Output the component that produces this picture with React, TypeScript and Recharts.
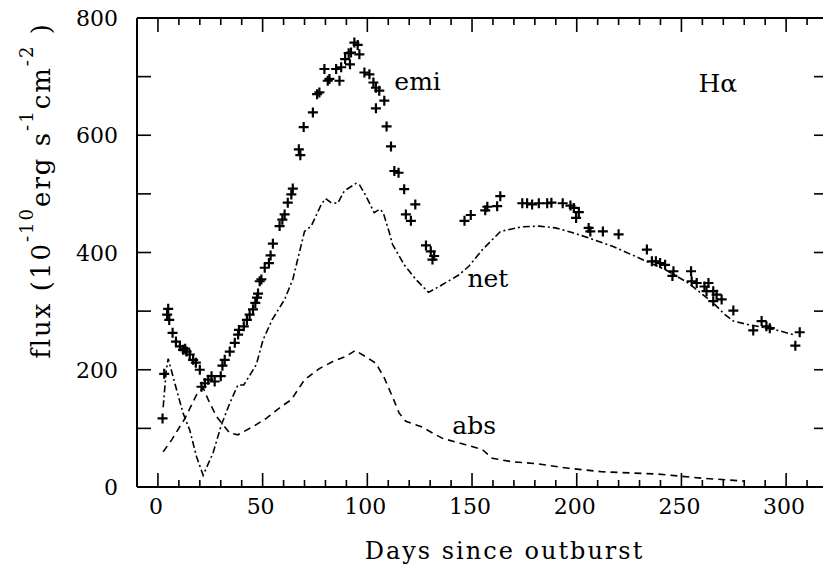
import React from "react";
import { ComposedChart, Line, Scatter, XAxis, YAxis, ReferenceDot, ReferenceLine } from "recharts";

// ---- data ----
const emiDays = [2.2, 3.0, 4.4, 4.9, 5.4, 7.0, 8.6, 10.5, 12.0, 13.0, 13.7, 15.2, 16.8, 18.1, 20.0, 20.8, 22.4, 24.0, 25.6, 27.1, 30.0, 30.8, 31.9, 34.3, 36.7, 38.3, 38.7, 41.0, 42.5, 43.8, 45.4, 46.5, 47.3, 47.8, 48.6, 49.4, 51.0, 53.0, 53.8, 54.9, 58.1, 59.4, 60.5, 62.0, 63.7, 64.4, 67.3, 68.0, 69.6, 74.0, 76.0, 77.1, 79.5, 81.1, 81.9, 85.1, 86.7, 87.5, 89.4, 91.1, 91.7, 92.2, 93.8, 95.4, 96.2, 98.6, 101.0, 102.9, 104.1, 104.1, 105.7, 108.1, 109.2, 111.3, 112.9, 114.9, 117.6, 118.4, 120.8, 122.9, 128.0, 130.3, 131.1, 131.9, 146.4, 149.4, 156.3, 157.3, 162.0, 163.5, 174.0, 176.3, 178.7, 181.9, 185.9, 187.9, 193.3, 197.0, 198.6, 199.7, 201.0, 205.7, 206.5, 212.5, 220.0, 233.5, 235.9, 237.8, 239.8, 242.2, 245.7, 246.2, 254.6, 254.9, 257.3, 261.0, 262.0, 262.9, 265.2, 265.2, 266.8, 269.2, 274.8, 284.3, 288.3, 290.6, 292.2, 304.4, 306.5];
const emiFlux = [117, 193, 294, 304, 285, 263, 248, 240, 234, 236, 231, 226, 217, 212, 200, 171, 177, 183, 189, 180, 189, 207, 217, 231, 246, 260, 268, 274, 285, 294, 303, 314, 323, 330, 351, 354, 374, 382, 395, 415, 445, 456, 465, 485, 499, 509, 576, 566, 614, 639, 670, 673, 713, 693, 696, 713, 693, 716, 730, 740, 721, 741, 758, 754, 738, 707, 704, 690, 681, 646, 676, 659, 615, 581, 539, 536, 508, 465, 454, 482, 412, 402, 388, 394, 454, 464, 472, 478, 479, 496, 484, 484, 482, 484, 484, 485, 484, 480, 476, 459, 469, 442, 436, 436, 431, 405, 385, 385, 382, 379, 360, 368, 368, 351, 348, 342, 334, 348, 334, 317, 328, 320, 301, 267, 283, 274, 271, 241, 264];

const netDays = [2.5, 4.0, 4.9, 8.9, 12.0, 15.2, 18.4, 21.6, 26.3, 30.3, 34.3, 38.2, 41.0, 47.0, 50.2, 54.5, 60.5, 64.4, 70.0, 73.2, 78.0, 80.0, 82.7, 85.9, 89.0, 94.6, 96.2, 99.4, 103.3, 106.0, 107.6, 110.5, 112.0, 117.6, 123.2, 129.2, 134.3, 143.8, 148.6, 155.0, 163.6, 174.0, 181.9, 189.9, 197.8, 205.7, 216.8, 229.5, 242.2, 253.3, 261.3, 266.0, 270.8, 274.8, 281.9, 288.2, 296.2, 303.3];
const netFlux = [136, 200, 219, 166, 126, 97, 52, 20, 58, 106, 143, 174, 174, 209, 251, 285, 320, 354, 436, 445, 482, 492, 485, 484, 505, 518, 516, 496, 468, 474, 468, 434, 414, 379, 354, 332, 342, 362, 377, 405, 436, 444, 445, 442, 434, 425, 411, 391, 371, 348, 325, 311, 294, 283, 277, 273, 267, 260];

const absDays = [2.5, 6.5, 12.9, 18.4, 21.6, 24.0, 28.0, 34.3, 38.2, 45.4, 51.7, 58.1, 63.7, 70.0, 77.1, 83.5, 89.8, 94.3, 100.2, 104.1, 108.1, 112.0, 115.2, 118.4, 126.3, 131.1, 135.9, 147.0, 154.9, 159.7, 169.2, 180.3, 196.0, 212.0, 239.0, 260.0, 280.0];
const absFlux = [60, 80, 117, 157, 169, 149, 120, 92, 89, 103, 117, 135, 149, 183, 202, 214, 223, 233, 220, 211, 186, 154, 126, 112, 102, 92, 83, 72, 64, 49, 43, 40, 32, 26, 22, 15, 10];

const xLabelTicks = [0, 50, 100, 150, 200, 250, 300];
const xMinorTicks = [10, 20, 30, 40, 60, 70, 80, 90, 110, 120, 130, 140, 160, 170, 180, 190, 210, 220, 230, 240, 260, 270, 280, 290, 310];
const yLabelTicks = [0, 200, 400, 600, 800];
const yMarkTicks = [100, 200, 300, 400, 500, 600, 700];
const xDomain = [-10, 320];
const yDomain = [0, 800];

const annotations = [
  { label: "emi", x: 112.9, y: 678 },
  { label: "Hα", x: 258.1, y: 673 },
  { label: "net", x: 147.8, y: 341 },
  { label: "abs", x: 140.6, y: 91 },
];

const emiData = emiDays.map((d, i) => ({ x: d, y: emiFlux[i] }));
const netData = netDays.map((d, i) => ({ x: d, y: netFlux[i] }));
const absData = absDays.map((d, i) => ({ x: d, y: absFlux[i] }));

// chart geometry
const CHART_W = 840;
const CHART_H = 566;
const MARGIN = { top: 17, right: 11, bottom: 0, left: 0 };
const LEFT_W = 137;
const RIGHT_W = 1;
const TOP_H = 1;
const BOTTOM_H = 79;
const PLOT_W = CHART_W - MARGIN.left - MARGIN.right - LEFT_W - RIGHT_W;
const PLOT_H = CHART_H - MARGIN.top - MARGIN.bottom - TOP_H - BOTTOM_H;
// tick lengths (pixels) expressed in data units
const xPerPx = (xDomain[1] - xDomain[0]) / PLOT_W;
const yPerPx = (yDomain[1] - yDomain[0]) / PLOT_H;
const MAJOR_V = 14 * yPerPx;
const MINOR_V = 7 * yPerPx;
const Y_TICK_H = 14 * xPerPx;

const xFrameTicks = [
  ...xLabelTicks.map((t) => ({ t, len: MAJOR_V })),
  ...xMinorTicks.map((t) => ({ t, len: MINOR_V })),
];

const rightMarks = yMarkTicks.map((t) => ({ x: xDomain[1], y: t }));

const FONT = "DejaVu Serif";
const AXIS_STYLE = { stroke: "#000", strokeWidth: 2 };

const Cross = (props: any) => {
  const { cx, cy } = props;
  if (cx == null || cy == null) return null;
  return (
    <path
      d={`M${cx - 5},${cy}H${cx + 5}M${cx},${cy - 5}V${cy + 5}`}
      stroke="#000"
      strokeWidth={2.2}
      fill="none"
    />
  );
};

const LeftMark = (props: any) => {
  const { cx, cy } = props;
  if (cx == null || cy == null) return <g />;
  return <line x1={cx} y1={cy} x2={cx - 14} y2={cy} stroke="#000" strokeWidth={1.6} />;
};

const BottomTick = (props: any) => {
  const { x, y, payload } = props;
  return (
    <text x={x - 2} y={y + 27} textAnchor="middle" fontFamily={FONT} fontSize={22} fill="#000">
      {payload.value}
    </text>
  );
};

const LeftTick = (props: any) => {
  const { x, y, payload } = props;
  return (
    <text x={x - 19} y={y + 8} textAnchor="end" fontFamily={FONT} fontSize={22} fill="#000">
      {payload.value}
    </text>
  );
};

const YLabel = (props: any) => {
  const vb = props.viewBox || {};
  const cx = (vb.x || 0) + 50;
  const cy = (vb.y || 0) + vb.height / 2 - 62;
  return (
    <text
      transform={`translate(${cx},${cy}) rotate(-90)`}
      x={0}
      y={0}
      textAnchor="middle"
      fontFamily={FONT}
      fontSize={26}
      letterSpacing={2}
      fill="#000"
    >
      <tspan>flux (10</tspan>
      <tspan dy={-17} fontSize={18}>-10</tspan>
      <tspan dy={17}>erg s</tspan>
      <tspan dy={-17} fontSize={18}>-1</tspan>
      <tspan dy={17}>cm</tspan>
      <tspan dy={-17} fontSize={18}>-2</tspan>
      <tspan dy={17}> )</tspan>
    </text>
  );
};

const XLabel = (props: any) => {
  const vb = props.viewBox || {};
  return (
    <text
      x={(vb.x || 0) + vb.width / 2 + 22}
      y={(vb.y || 0) + 72}
      textAnchor="middle"
      fontFamily={FONT}
      fontSize={24}
      letterSpacing={2}
      fill="#000"
    >
      Days since outburst
    </text>
  );
};

const makeAnnot = (text: string) => (props: any) => {
  const vb = props.viewBox || {};
  return (
    <text x={vb.x} y={vb.y} fontFamily={FONT} fontSize={25} fill="#000">
      {text}
    </text>
  );
};

export default function App() {
  return (
    <div
      style={{
        position: "absolute",
        left: 0,
        top: 0,
        width: 823,
        height: 566,
        overflow: "hidden",
        background: "#fff",
      }}
    >
      <ComposedChart width={CHART_W} height={CHART_H} margin={MARGIN}>
        <XAxis
          xAxisId={0}
          dataKey="x"
          type="number"
          domain={xDomain}
          ticks={xLabelTicks}
          interval={0}
          height={BOTTOM_H}
          tickSize={0}
          tickMargin={0}
          tickLine={false}
          tick={<BottomTick />}
          axisLine={AXIS_STYLE}
          label={<XLabel />}
        />
        <XAxis
          xAxisId="top"
          orientation="top"
          dataKey="x"
          type="number"
          domain={xDomain}
          height={TOP_H}
          tick={false}
          tickLine={false}
          axisLine={AXIS_STYLE}
        />
        <YAxis
          yAxisId={0}
          dataKey="y"
          type="number"
          domain={yDomain}
          ticks={yLabelTicks}
          interval={0}
          width={LEFT_W}
          tickSize={0}
          tickMargin={0}
          tickLine={false}
          tick={<LeftTick />}
          axisLine={AXIS_STYLE}
          label={<YLabel />}
        />
        <YAxis
          yAxisId="right"
          orientation="right"
          type="number"
          domain={yDomain}
          width={RIGHT_W}
          tick={false}
          tickLine={false}
          axisLine={AXIS_STYLE}
        />
        {xFrameTicks.map((k) => (
          <ReferenceLine
            key={`b${k.t}`}
            segment={[
              { x: k.t, y: yDomain[0] },
              { x: k.t, y: yDomain[0] + k.len },
            ]}
            stroke="#000"
            strokeWidth={1.6}
            ifOverflow="visible"
          />
        ))}
        {xFrameTicks.map((k) => (
          <ReferenceLine
            key={`t${k.t}`}
            segment={[
              { x: k.t, y: yDomain[1] },
              { x: k.t, y: yDomain[1] - k.len },
            ]}
            stroke="#000"
            strokeWidth={1.6}
            ifOverflow="visible"
          />
        ))}
        {yMarkTicks.map((t) => (
          <ReferenceLine
            key={`l${t}`}
            segment={[
              { x: xDomain[0], y: t },
              { x: xDomain[0] + Y_TICK_H, y: t },
            ]}
            stroke="#000"
            strokeWidth={1.6}
            ifOverflow="visible"
          />
        ))}
        <Scatter data={rightMarks} dataKey="y" shape={<LeftMark />} isAnimationActive={false} />
        <Line
          data={netData}
          dataKey="y"
          type="linear"
          stroke="#000"
          strokeWidth={1.6}
          strokeDasharray="7 3 2 3"
          dot={false}
          activeDot={false}
          isAnimationActive={false}
        />
        <Line
          data={absData}
          dataKey="y"
          type="linear"
          stroke="#000"
          strokeWidth={1.6}
          strokeDasharray="7 5"
          dot={false}
          activeDot={false}
          isAnimationActive={false}
        />
        <Scatter data={emiData} dataKey="y" shape={<Cross />} isAnimationActive={false} />
        {annotations.map((a) => (
          <ReferenceDot
            key={a.label}
            x={a.x}
            y={a.y}
            r={0}
            fill="none"
            stroke="none"
            label={makeAnnot(a.label)}
          />
        ))}
      </ComposedChart>
    </div>
  );
}
